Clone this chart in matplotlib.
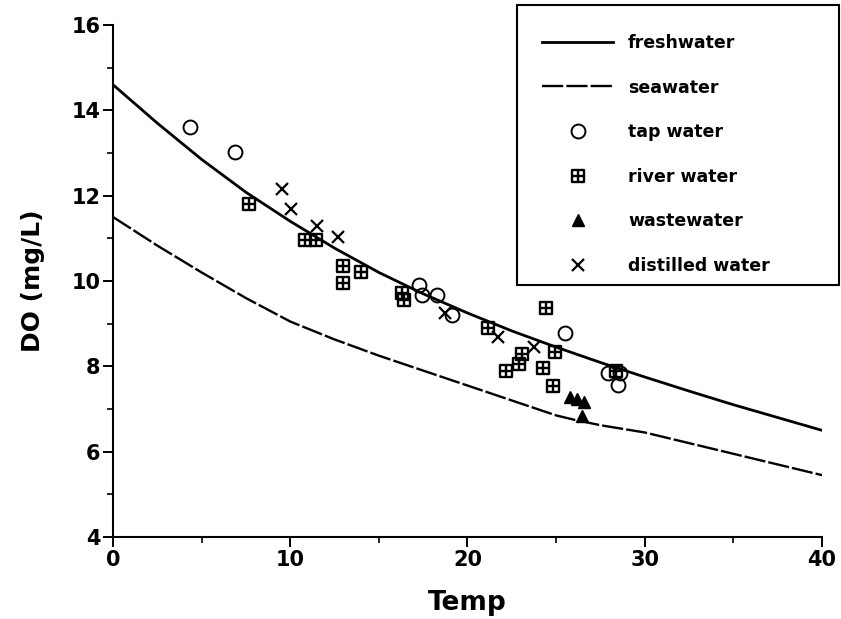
import matplotlib
matplotlib.use("Agg")
import matplotlib.pyplot as plt
from matplotlib.path import Path
from matplotlib.patches import Rectangle

plt.rcParams['font.family'] = ['DejaVu Sans']
plt.rcParams['font.weight'] = 'bold'

# saturation curves
fresh_t = [0, 2.5, 5, 7.5, 10, 12.5, 15, 17.5, 20, 22.5, 25, 27.5, 30, 32.5, 35, 37.5, 40]
fresh_do = [14.6, 13.7, 12.85, 12.08, 11.4, 10.77, 10.2, 9.7, 9.25, 8.83, 8.45, 8.09,
            7.75, 7.42, 7.1, 6.8, 6.5]
sea_t = [0, 2.5, 5, 7.5, 10, 12.5, 15, 17.5, 20, 22.5, 25, 26, 27.5, 30, 32.5, 35, 37.5, 40]
sea_do = [11.5, 10.83, 10.2, 9.6, 9.05, 8.63, 8.25, 7.9, 7.55, 7.2, 6.85, 6.75, 6.62,
          6.45, 6.2, 5.95, 5.7, 5.45]

# measured samples
tap_t = [4.34, 6.88, 17.28, 17.41, 18.26, 19.1, 25.5, 27.95, 28.6, 28.5]
tap_do = [13.62, 13.02, 9.9, 9.67, 9.67, 9.2, 8.79, 7.85, 7.85, 7.56]

river_t = [7.67, 10.83, 11.45, 13.0, 12.96, 13.99, 16.29, 16.4, 21.18, 22.17,
           22.93, 23.06, 24.28, 24.41, 24.81, 24.94, 28.4]
river_do = [11.8, 10.96, 10.96, 10.36, 9.95, 10.22, 9.71, 9.55, 8.89, 7.89,
            8.05, 8.3, 7.97, 9.36, 7.54, 8.34, 7.9]

waste_t = [25.78, 26.2, 26.57, 26.44]
waste_do = [7.27, 7.23, 7.17, 6.84]

dist_t = [9.52, 10.02, 11.49, 12.71, 18.73, 21.74, 23.75]
dist_do = [12.15, 11.68, 11.3, 11.02, 9.24, 8.69, 8.45]

# square with a cross inside
sq_verts = [(-1, -1), (1, -1), (1, 1), (-1, 1), (-1, -1),
            (0, -1), (0, 1), (-1, 0), (1, 0)]
sq_codes = [Path.MOVETO, Path.LINETO, Path.LINETO, Path.LINETO, Path.CLOSEPOLY,
            Path.MOVETO, Path.LINETO, Path.MOVETO, Path.LINETO]
river_marker = Path(sq_verts, sq_codes)

W, H = 841, 619
fig = plt.figure(figsize=(W / 100, H / 100), dpi=100)
ax = fig.add_axes([113 / W, 1 - 537 / H, 709 / W, 512 / H])

ax.plot(fresh_t, fresh_do, color='black', lw=2.0, label='freshwater')
ax.plot(sea_t, sea_do, color='black', lw=1.7, ls=(0, (9, 1.3)), label='seawater')
ax.plot(tap_t, tap_do, ls='none', marker='o', ms=10, mfc='none', mec='black',
        mew=1.4, label='tap water')
ax.plot(river_t, river_do, ls='none', marker=river_marker, ms=8.5, mfc='none',
        mec='black', mew=1.7, label='river water')
ax.plot(waste_t, waste_do, ls='none', marker='^', ms=8, color='black',
        label='wastewater')
ax.plot(dist_t, dist_do, ls='none', marker='x', ms=8, mec='black', mew=1.6,
        label='distilled water')

ax.set_xlim(0, 40)
ax.set_ylim(4, 16)
ax.set_xticks([0, 10, 20, 30, 40])
ax.set_xticks([5, 15, 25, 35], minor=True)
ax.set_yticks([4, 6, 8, 10, 12, 14, 16])
ax.set_yticks([5, 7, 9, 11, 13, 15], minor=True)
ax.tick_params(which='major', direction='out', length=7, width=1.4,
               labelsize=15, pad=2)
ax.tick_params(which='minor', direction='out', length=4, width=1.2)

for s in ['top', 'right']:
    ax.spines[s].set_visible(False)
for s in ['left', 'bottom']:
    ax.spines[s].set_linewidth(1.5)

ax.set_xlabel('Temp', fontsize=19, fontweight='bold', labelpad=15)
ax.set_ylabel('DO (mg/L)', fontsize=18, fontweight='bold', labelpad=19)

# legend without its own frame; the box is drawn separately
leg = ax.legend(loc='upper left', bbox_to_anchor=(542 / W, 1 - 34 / H),
                bbox_transform=fig.transFigure, frameon=False,
                fontsize=12.5, labelspacing=1.53, handlelength=4.1,
                handletextpad=0.86, borderpad=0, borderaxespad=0)
for t in leg.get_texts():
    t.set_fontweight('bold')

fig.patches.append(Rectangle((517 / W, 1 - 285 / H), 322 / W, 280 / H,
                             transform=fig.transFigure, fill=False,
                             edgecolor='black', linewidth=1.5))

fig.savefig('out.png', dpi=100)
